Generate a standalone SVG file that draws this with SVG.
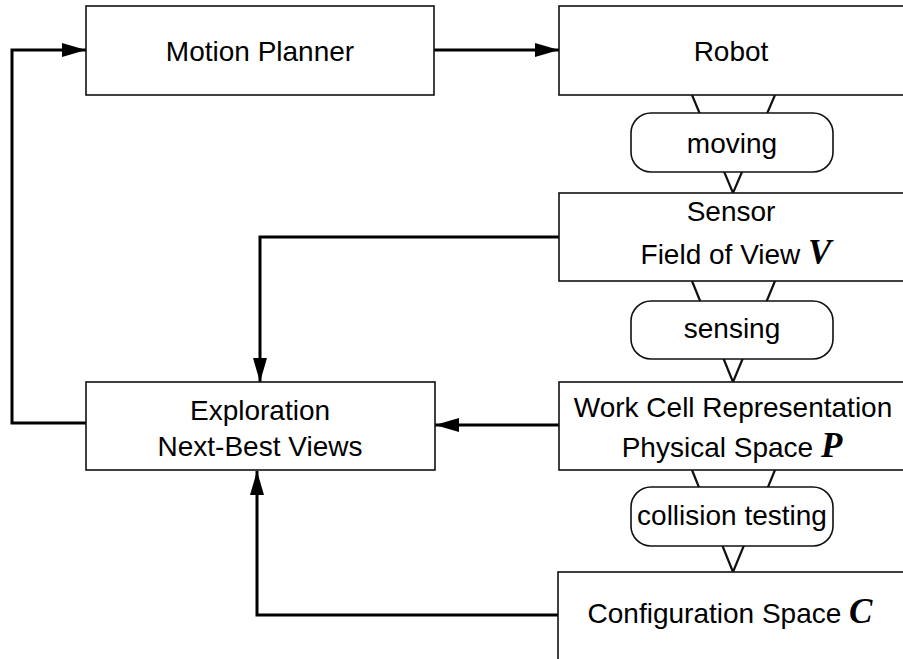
<svg xmlns="http://www.w3.org/2000/svg" width="903" height="659" viewBox="0 0 903 659">
  <defs>
    <marker id="arrow" markerWidth="24" markerHeight="14" refX="24" refY="7" orient="auto" markerUnits="userSpaceOnUse">
      <path d="M0,0 L24,7 L0,14 Z" fill="#000"/>
    </marker>
    <style>
      .box { fill: #fff; stroke: #111; stroke-width: 1.6; }
      .pill { fill: #fff; stroke: #111; stroke-width: 1.6; }
      .funnel { fill: none; stroke: #111; stroke-width: 2.2; }
      .wire { fill: none; stroke: #000; stroke-width: 3; }
      .lbl { font-family: "Liberation Sans", Arial, sans-serif; font-size: 28px; fill: #000; text-anchor: middle; }
      .sym { font-family: "Liberation Serif", "Times New Roman", serif; font-weight: bold; font-style: italic; font-size: 35px; }
    </style>
  </defs>

  <rect width="903" height="659" fill="#fff"/>

  <!-- funnels between the stages of the right column -->
  <g id="funnels">
    <polyline class="funnel" points="692,95 733,193 775,95"/>
    <polyline class="funnel" points="692,281 733,382 775,281"/>
    <polyline class="funnel" points="692,470 733,572 775,470"/>
  </g>

  <!-- connectors -->
  <g id="connectors">
    <path class="wire" d="M86,423 H12 V50 H86" marker-end="url(#arrow)"/>
    <path class="wire" d="M434,50 H559" marker-end="url(#arrow)"/>
    <path class="wire" d="M559,237 H260 V382" marker-end="url(#arrow)"/>
    <path class="wire" d="M559,425 H435" marker-end="url(#arrow)"/>
    <path class="wire" d="M558,615 H257 V471" marker-end="url(#arrow)"/>
  </g>

  <g id="motion-planner">
    <rect class="box" x="86" y="6" width="348" height="89"/>
    <text class="lbl" x="260" y="61">Motion Planner</text>
  </g>

  <g id="robot">
    <rect class="box" x="559" y="6" width="360" height="89"/>
    <text class="lbl" x="731" y="61">Robot</text>
  </g>

  <g id="moving">
    <rect class="pill" x="631" y="113" width="202" height="59" rx="20" ry="20"/>
    <text class="lbl" x="732" y="153">moving</text>
  </g>

  <g id="sensor">
    <rect class="box" x="559" y="193" width="360" height="88"/>
    <text class="lbl" x="731" y="221">Sensor</text>
    <text class="lbl" x="736" y="264">Field of View <tspan class="sym">V</tspan></text>
  </g>

  <g id="sensing">
    <rect class="pill" x="631" y="301" width="202" height="58" rx="20" ry="20"/>
    <text class="lbl" x="732" y="338">sensing</text>
  </g>

  <g id="work-cell">
    <rect class="box" x="559" y="382" width="360" height="88"/>
    <text class="lbl" x="733" y="417">Work Cell Representation</text>
    <text class="lbl" x="732" y="457">Physical Space <tspan class="sym">P</tspan></text>
  </g>

  <g id="collision-testing">
    <rect class="pill" x="631" y="487" width="202" height="59" rx="20" ry="20"/>
    <text class="lbl" x="732" y="525">collision testing</text>
  </g>

  <g id="configuration-space">
    <rect class="box" x="558" y="572" width="360" height="100"/>
    <text class="lbl" x="730" y="623">Configuration Space <tspan class="sym">C</tspan></text>
  </g>

  <g id="exploration">
    <rect class="box" x="86" y="382" width="349" height="88"/>
    <text class="lbl" x="260" y="420">Exploration</text>
    <text class="lbl" x="260" y="456">Next-Best Views</text>
  </g>
</svg>
